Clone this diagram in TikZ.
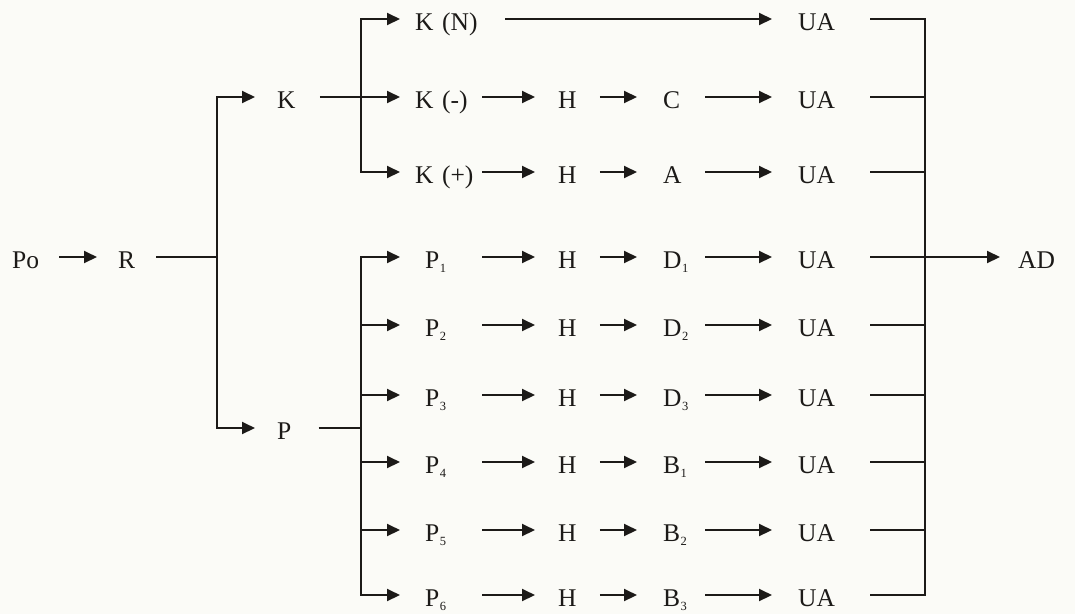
\documentclass[tikz,border=0pt]{standalone}
\usepackage{fontspec}
\setmainfont{Liberation Serif}
\usetikzlibrary{arrows.meta}
\definecolor{paper}{RGB}{251,251,247}
\definecolor{ink}{RGB}{28,26,24}
% lowered small index digit
\newcommand{\idx}[1]{\kern0.5pt\raisebox{-4pt}{\fontsize{12.5}{12.5}\selectfont #1}}
\begin{document}
\begin{tikzpicture}[x=1pt,y=-1pt,
  lbl/.style={anchor=west, inner xsep=0pt, inner ysep=0pt,
    text height=23pt, text depth=0pt,
    font=\fontsize{25.5}{30}\selectfont, text=ink},
  colk/.style={text width=67pt, align=left},
  colp/.style={text width=57pt, align=left},
  colm/.style={text width=42pt, align=left},
  line/.style={draw=ink, line width=2pt},
  arr/.style={line, -{Triangle[length=13pt,width=12pt]}},
]
\fill[paper] (0,0) rectangle (1075,614);
\useasboundingbox (0,0) rectangle (1075,614);

% junctions of the branching lines
\coordinate (j1) at (217,257);
\coordinate (j2) at (361,97);
\coordinate (j3) at (361,428);
\coordinate (j4) at (925,257);

% first stages
\node[lbl] (po) at (12,257) {Po};
\node[lbl] (r) at (118,257) {R};
\node[lbl] (k) at (277,97) {K};
\node[lbl] (p) at (277,428) {P};
\node[lbl] (ad) at (1018,257) {AD};

\draw[arr, shorten <=20pt, shorten >=21pt] (po) -- (r);
\draw[line, shorten <=21pt] (r) -- (j1);
\draw[arr, shorten >=22pt] (j1) |- (k);
\draw[arr, shorten >=22pt] (j1) |- (p);

% K branch
\node[lbl,colk] (kn) at (415,19) {K (N)};
\node[lbl,colk] (km) at (415,97) {K (-)};
\node[lbl,colk] (kp) at (415,172) {K (+)};
\node[lbl] (ua1) at (798,19) {UA};

\draw[arr, shorten <=24pt, shorten >=15pt] (k) -- (km);
\draw[arr, shorten >=15pt] (j2) |- (kn);
\draw[arr, shorten >=15pt] (j2) |- (kp);
\draw[arr, shorten <=23pt, shorten >=26pt] (kn) -- (ua1);

\foreach \n/\y/\m in {2/97/C, 3/172/A} {
  \node[lbl] (h\n) at (558,\y) {H};
  \node[lbl,colm] (m\n) at (663,\y) {\m};
  \node[lbl] (ua\n) at (798,\y) {UA};
}
\draw[arr, shorten >=23pt] (km) -- (h2);
\draw[arr, shorten >=23pt] (kp) -- (h3);
\foreach \n in {2,3} {
  \draw[arr, shorten <=23pt, shorten >=26pt] (h\n) -- (m\n);
  \draw[arr, shorten >=26pt] (m\n) -- (ua\n);
}

% P branch
\draw[line, shorten <=27pt] (p) -- (j3);
\foreach \i/\y/\m in {1/257/D\idx{1}, 2/325/D\idx{2}, 3/395/D\idx{3},
                      4/462/B\idx{1}, 5/530/B\idx{2}, 6/595/B\idx{3}} {
  \node[lbl,colp] (p\i) at (425,\y) {P\idx{\i}};
  \node[lbl] (ph\i) at (558,\y) {H};
  \node[lbl,colm] (pm\i) at (663,\y) {\m};
  \node[lbl] (pu\i) at (798,\y) {UA};
  \draw[arr, shorten >=23pt] (p\i) -- (ph\i);
  \draw[arr, shorten <=23pt, shorten >=26pt] (ph\i) -- (pm\i);
  \draw[arr, shorten >=26pt] (pm\i) -- (pu\i);
}
\draw[arr, shorten >=25pt] (j3) |- (p1);
\draw[arr, shorten >=25pt] (j3) |- (p6);
\foreach \i in {2,...,5} {
  \draw[arr, shorten >=25pt] (p\i -| j3) -- (p\i);
}

% collecting line on the right
\draw[line, shorten <=35pt, shorten >=35pt]
  (ua1) -- (ua1 -| j4) -- (pu6 -| j4) -- (pu6);
\foreach \u in {ua2,ua3,pu1,pu2,pu3,pu4,pu5} {
  \draw[line, shorten <=35pt] (\u) -- (\u -| j4);
}
\draw[arr, shorten >=18pt] (j4) -- (ad);
\end{tikzpicture}
\end{document}
